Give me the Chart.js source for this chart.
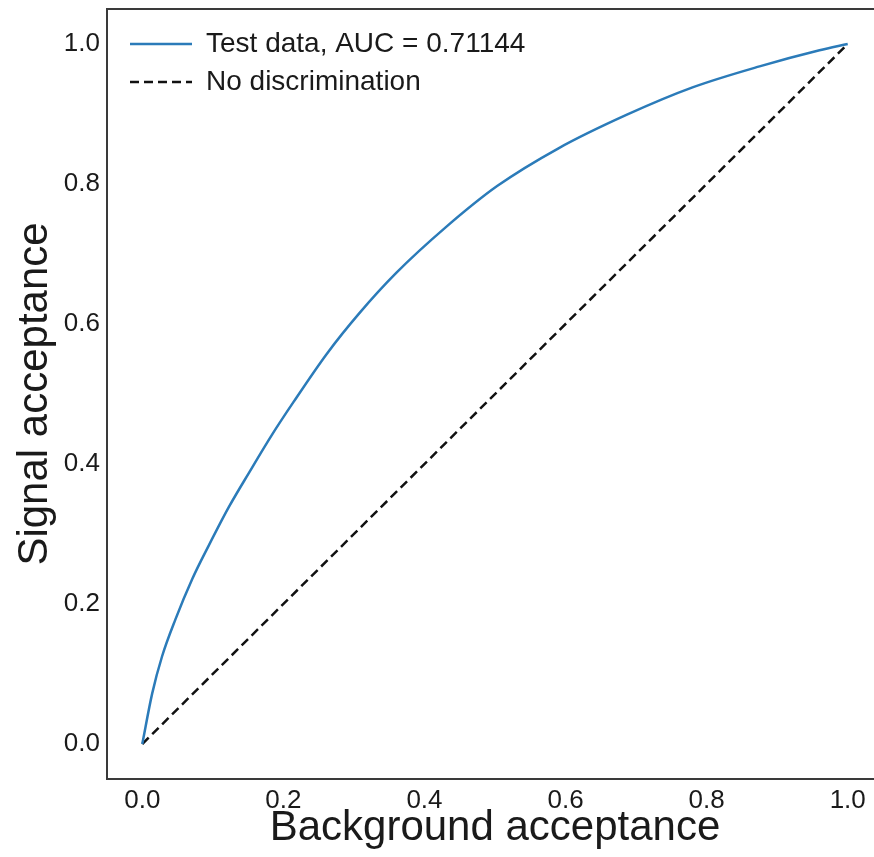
<!DOCTYPE html>
<html>
<head>
<meta charset="utf-8">
<script src="https://cdn.jsdelivr.net/npm/chart.js@4"></script>
<style>
  body { margin: 0; overflow: hidden; background: #fff; }
  canvas { display: block; }
</style>
</head>
<body>
<canvas id="roc" width="900" height="857"></canvas>
<script>
// ROC curve
var bkgAcceptance = [0, 0.014, 0.028, 0.047, 0.071, 0.094, 0.123, 0.151, 0.184, 0.214, 0.262, 0.309, 0.36, 0.43, 0.503, 0.59, 0.687, 0.78, 0.875, 0.96, 1.0];
var sigAcceptance = [0, 0.072, 0.125, 0.178, 0.236, 0.283, 0.339, 0.387, 0.442, 0.488, 0.558, 0.617, 0.673, 0.738, 0.797, 0.851, 0.899, 0.938, 0.968, 0.991, 1.0];
var diagX = [0, 1];
var diagY = [0, 1];
var xTicks = [0, 0.2, 0.4, 0.6, 0.8, 1.0];
var yTicks = [0, 0.2, 0.4, 0.6, 0.8, 1.0];

Chart.defaults.font.family = "'Liberation Sans', Arial, sans-serif";
Chart.defaults.color = "#1a1a1a";

// frame round the plot area (all four spines)
var framePlugin = {
  id: "frame",
  afterDraw: function(chart) {
    var a = chart.chartArea, c = chart.ctx;
    c.save();
    c.strokeStyle = "#3a3a3a";
    c.lineWidth = 2;
    c.strokeRect(a.left, a.top, a.right - a.left, a.bottom - a.top);
    c.restore();
  }
};

// put the legend inside the top-left corner of the plot
var legendNudge = {
  id: "legendNudge",
  afterLayout: function(chart) {
    if (chart.legend) {
      chart.legend.left = chart.chartArea.left + 13;
      chart.legend.top = chart.chartArea.top + 11;
    }
  }
};

var ctx = document.getElementById("roc").getContext("2d");
var chart = new Chart(ctx, {
  type: "line",
  data: {
    datasets: [
      {
        label: "Test data, AUC = 0.71144",
        data: bkgAcceptance.map(function(x, i) { return { x: x, y: sigAcceptance[i] }; }),
        borderColor: "#2b7bb9",
        backgroundColor: "#2b7bb9",
        borderWidth: 2.5,
        pointRadius: 0,
        cubicInterpolationMode: "monotone",
        fill: false
      },
      {
        label: "No discrimination",
        data: diagX.map(function(x, i) { return { x: x, y: diagY[i] }; }),
        borderColor: "#111",
        backgroundColor: "#111",
        borderWidth: 2.5,
        borderDash: [9, 5],
        pointRadius: 0,
        fill: false
      }
    ]
  },
  options: {
    responsive: false,
    animation: false,
    layout: { padding: { left: 0, top: 9, right: 17, bottom: 0 } },
    plugins: {
      tooltip: { enabled: false },
      legend: {
        position: "chartArea",
        align: "start",
        labels: {
          usePointStyle: true,
          pointStyle: "line",
          pointStyleWidth: 62,
          padding: 10,
          color: "#1a1a1a",
          font: { size: 28 },
          generateLabels: function(chart) {
            var items = Chart.defaults.plugins.legend.labels.generateLabels(chart);
            items.forEach(function(it) {
              var ds = chart.data.datasets[it.datasetIndex];
              it.lineDash = ds.borderDash || [];
              it.lineWidth = ds.borderWidth;
              it.strokeStyle = ds.borderColor;
            });
            return items;
          }
        }
      }
    },
    scales: {
      x: {
        type: "linear",
        min: -0.05,
        max: 1.05,
        afterBuildTicks: function(s) { s.ticks = xTicks.map(function(v) { return { value: v }; }); },
        afterFit: function(s) { s.height = 78; s.paddingLeft = 0; s.paddingRight = 0; },
        grid: { display: false, drawTicks: false },
        border: { display: false },
        ticks: {
          padding: 6,
          maxRotation: 0,
          font: { size: 26 },
          callback: function(v) { return v.toFixed(1); }
        },
        title: { display: true, text: "Background acceptance", font: { size: 42 }, padding: { top: 0, bottom: 3 } }
      },
      y: {
        type: "linear",
        min: -0.05,
        max: 1.05,
        afterBuildTicks: function(s) { s.ticks = yTicks.map(function(v) { return { value: v }; }); },
        afterFit: function(s) { s.width = 107; s.paddingTop = 0; s.paddingBottom = 0; },
        grid: { display: false, drawTicks: false },
        border: { display: false },
        ticks: {
          padding: 7,
          font: { size: 26 },
          callback: function(v) { return v.toFixed(1); }
        },
        title: { display: true, text: "Signal acceptance", font: { size: 42 }, padding: { top: 10, bottom: 0 } }
      }
    }
  },
  plugins: [framePlugin, legendNudge]
});
</script>
</body>
</html>
